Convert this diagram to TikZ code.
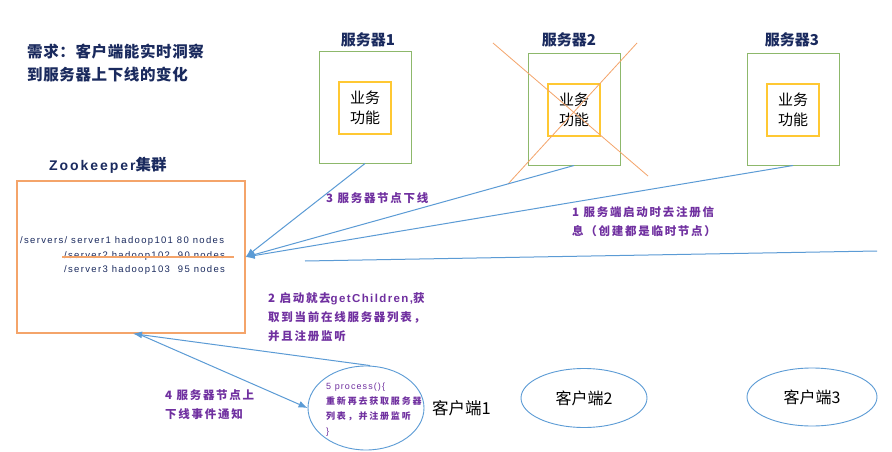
\documentclass[tikz,border=0pt]{standalone}
\usepackage{fontspec}
\setmainfont{Noto Sans CJK SC}
\newfontfamily\lat{Liberation Sans}
\newfontfamily\latsp[LetterSpace=12]{Liberation Sans}
\newfontfamily\cjksp[LetterSpace=15]{Noto Sans CJK SC}
\newfontfamily\cjkspb[LetterSpace=20]{Noto Sans CJK SC}
\newfontfamily\titlefont[LetterSpace=4]{Noto Sans CJK SC}
\newfontfamily\zkfont[LetterSpace=14]{Liberation Sans}
\usetikzlibrary{arrows.meta,shapes.geometric,calc}
\definecolor{navy}{HTML}{1A2A5E}
\definecolor{purp}{HTML}{7030A0}
\definecolor{grn}{HTML}{8DB86B}
\definecolor{ylw}{HTML}{FFC832}
\definecolor{org}{HTML}{F4A46A}
\definecolor{blu}{HTML}{5B9BD5}
\tikzset{
  srvbox/.style={draw=grn, line width=1pt, minimum width=92pt, minimum height=111pt, inner sep=0pt},
  funcbox/.style={draw=ylw, line width=1.2pt, minimum width=52pt, minimum height=52pt, inner sep=0pt, align=center, font=\fontsize{15}{20}\selectfont},
  srvlabel/.style={font=\bfseries\fontsize{15}{18}\selectfont, text=navy, inner sep=0pt},
  conn/.style={draw=blu, line width=1pt},
  arr/.style={conn, -{Latex[length=9pt,width=7pt]}},
  plabel/.style={font=\cjksp\bfseries\fontsize{11.5}{19}\selectfont, text=purp, align=left, inner sep=0pt, anchor=west},
  client/.style={ellipse, draw=blu, line width=0.9pt, inner sep=0pt, font=\fontsize{16}{18}\selectfont},
  zktext/.style={font=\zkfont\fontsize{9.5}{11}\selectfont, text=navy, inner sep=0pt, anchor=west},
  xline/.style={draw=org, line width=0.8pt}
}
\begin{document}
\begin{tikzpicture}[x=1pt,y=-1pt]
\useasboundingbox (0,0) rectangle (892,452);
\fill[white] (0,0) rectangle (892,452);

% title
\node[anchor=west, align=left, inner sep=0pt, text=navy, font=\titlefont\bfseries\fontsize{15.5}{23}\selectfont] (title) at (27,63.5) {需求：客户端能实时洞察\\到服务器上下线的变化};

% servers
\node[srvlabel] (l1) at (368,40) {服务器1};
\node[srvlabel] (l2) at (569,40) {服务器2};
\node[srvlabel] (l3) at (792,40) {服务器3};
\node[srvbox] (s1) at (365,107.5) {};
\node[srvbox] (s2) at (574,109.5) {};
\node[srvbox] (s3) at (793,109.5) {};
\node[funcbox] (f1) at (365,108) {业务\\功能};
\node[funcbox] (f2) at (574,110) {业务\\功能};
\node[funcbox] (f3) at (793,110) {业务\\功能};
\draw[xline] (493,43) -- (648,176);
\draw[xline] (637,43) -- (508,184);

% zookeeper
\node[anchor=west, inner sep=0pt, text=navy] (zkl) at (49,165) {{\zkfont\bfseries\fontsize{14}{16}\selectfont Zookeeper}{\bfseries\fontsize{15.5}{16}\selectfont 集群}};
\node[draw=org, line width=1.3pt, minimum width=228pt, minimum height=152pt, inner sep=0pt] (zk) at (131,257) {};
\node[zktext] (z1) at (20,241) {/servers/ server1 hadoop101 80 nodes};
\node[zktext] (z2) at (64,256) {/server2 hadoop102 \ 90 nodes};
\node[zktext] (z3) at (64,270) {/server3 hadoop103 \ 95 nodes};
\draw[xline, line width=1.2pt] ([xshift=-2pt,yshift=-1pt]z2.west) -- ([xshift=9pt,yshift=-1pt]z2.east);

% clients
\node[client, minimum width=116pt, minimum height=84pt] (c1) at (366,408) {};
\node[anchor=west, inner sep=0pt, font=\fontsize{16.5}{18}\selectfont] (c1l) at (432,408) {客户端1};
\node[client, minimum width=126pt, minimum height=59pt] (c2) at (584,398) {客户端2};
\node[client, minimum width=130pt, minimum height=58pt] (c3) at (812,397) {客户端3};
\node[anchor=west, align=left, inner sep=0pt, text=purp, font=\fontsize{9}{15}\selectfont] (c1t) at (326,409.5)
  {{\latsp 5 process(){\{}}\\{\cjkspb\bfseries 重新再去获取服务器}\\{\cjkspb\bfseries 列表，并注册监听}\\{\lat \}}};

% connectors
\draw[arr] (s1.south) -- (zk.east);
\draw[arr] (s2.south) -- (zk.east);
\draw[arr] (s3.south) -- (zk.east);
\coordinate (la) at (305,261);
\coordinate (lb) at (877,251);
\draw[conn] (la) -- (lb);
\draw[arr] ([xshift=4pt]c1.north) -- ([xshift=2pt]zk.south);
\draw[arr] ([xshift=9pt,yshift=-1pt]zk.south) -- (c1.west);

% labels
\node[plabel] (t3) at (326,198) {3 服务器节点下线};
\node[plabel] (t1) at (572,222) {1 服务端启动时去注册信\\息（创建都是临时节点）};
\node[plabel] (t2) at (268,317) {2 启动就去{\latsp\bfseries getChildren,}获\\取到当前在线服务器列表，\\并且注册监听};
\node[plabel] (t4) at (165,404.5) {4 服务器节点上\\下线事件通知};
\end{tikzpicture}
\end{document}
